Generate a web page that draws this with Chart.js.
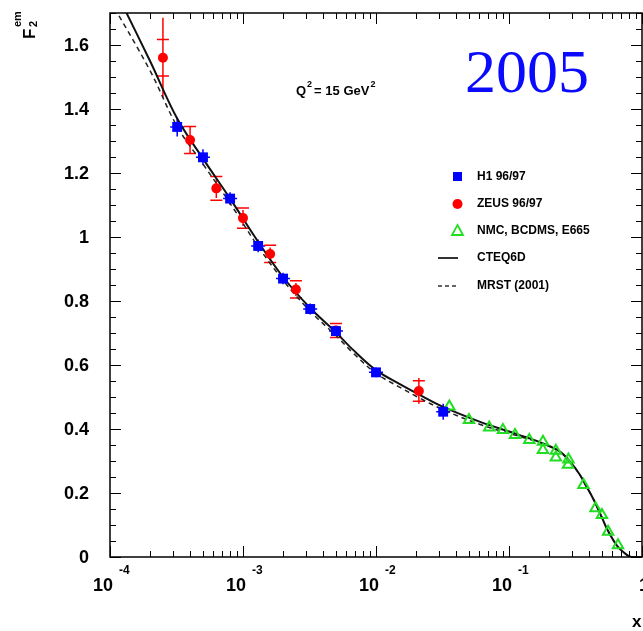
<!DOCTYPE html>
<html>
<head>
<meta charset="utf-8">
<script src="https://cdn.jsdelivr.net/npm/chart.js@4/dist/chart.umd.min.js"></script>
<style>
  html, body { margin: 0; padding: 0; background: #fff; overflow: hidden; }
  #wrap { width: 643px; height: 631px; position: relative; }
  canvas { display: block; }
</style>
</head>
<body>
<div id="wrap"><canvas id="f2Chart"></canvas></div>
<script>
// H1 96/97
const h1X = [3.2e-4, 5.0e-4, 8.0e-4, 1.3e-3, 2.0e-3, 3.2e-3, 5.0e-3, 1.0e-2, 3.2e-2];
const h1Y = [1.344, 1.249, 1.120, 0.972, 0.870, 0.775, 0.706, 0.577, 0.454];
const h1Err = [0.03, 0.025, 0.02, 0.02, 0.018, 0.017, 0.015, 0.015, 0.025];

// ZEUS 96/97
const zeusX = [2.5e-4, 4.0e-4, 6.3e-4, 1.0e-3, 1.6e-3, 2.5e-3, 5.0e-3, 2.1e-2];
const zeusY = [1.560, 1.303, 1.152, 1.059, 0.947, 0.836, 0.708, 0.519];
const zeusErr = [0.125, 0.04, 0.03, 0.025, 0.02, 0.02, 0.015, 0.04];
const zeusSys = [0.045, 0.03, 0.025, 0.02, 0.015, 0.015, 0.01, 0.02];

// NMC, BCDMS, E665
const nmcX = [0.0356, 0.050, 0.071, 0.090, 0.111, 0.142, 0.180, 0.180, 0.225, 0.225, 0.280, 0.278, 0.363, 0.447, 0.50, 0.556, 0.66];
const nmcY = [0.470, 0.428, 0.405, 0.397, 0.381, 0.366, 0.360, 0.334, 0.332, 0.311, 0.305, 0.288, 0.225, 0.152, 0.131, 0.079, 0.037];

// CTEQ6D
const cteqX = [1.2e-4, 2e-4, 3.2e-4, 5e-4, 8e-4, 1.3e-3, 2e-3, 3.2e-3, 5e-3, 6.7e-3, 1e-2, 1.5e-2, 2.1e-2, 3.2e-2, 6e-2, 0.1, 0.14, 0.18, 0.24, 0.29, 0.34, 0.38, 0.42, 0.45, 0.5, 0.55, 0.65, 0.75, 0.83, 1];
const cteqY = [1.738, 1.55, 1.37, 1.245, 1.12, 0.985, 0.875, 0.778, 0.702, 0.648, 0.584, 0.541, 0.508, 0.469, 0.423, 0.392, 0.372, 0.355, 0.330, 0.296, 0.258, 0.222, 0.190, 0.165, 0.123, 0.085, 0.035, 0.010, 0, 0];

// MRST (2001)
const mrstX = [1.0e-4, 2e-4, 3.2e-4, 5e-4, 8e-4, 1.3e-3, 2e-3, 3.2e-3, 5e-3, 6.7e-3, 1e-2, 1.5e-2, 2.1e-2, 3.2e-2, 6e-2, 0.1, 0.14, 0.18, 0.24, 0.29, 0.34, 0.38, 0.42, 0.45, 0.5, 0.55, 0.65, 0.75, 0.83, 1];
const mrstY = [1.74, 1.52, 1.345, 1.228, 1.105, 0.97, 0.865, 0.768, 0.692, 0.638, 0.574, 0.531, 0.498, 0.460, 0.415, 0.386, 0.369, 0.354, 0.330, 0.296, 0.258, 0.222, 0.190, 0.165, 0.123, 0.085, 0.035, 0.010, 0, 0];

// axis ticks
const yTicks = [0, 0.2, 0.4, 0.6, 0.8, 1, 1.2, 1.4, 1.6];
const xDecades = [-4, -3, -2, -1, 0];

const toPts = (xs, ys) => xs.map((x, i) => ({ x: x, y: ys[i] }));
const FONT = '"Liberation Sans", Arial, Helvetica, sans-serif';

// the plot frame runs to the right edge of the picture
const frameRight = {
    id: 'frameRight',
    afterLayout(chart) {
        const xs = chart.scales.x;
        const r = Math.min(chart.width - 1, 642);
        xs.right = r;
        xs.width = r - xs.left;
        xs.configure();
        chart.chartArea.right = r;
        chart.chartArea.width = r - chart.chartArea.left;
    }
};

const decorPlugin = {
    id: 'decor',
    beforeDatasetsDraw(chart) {
        const ctx = chart.ctx;
        const xs = chart.scales.x, ys = chart.scales.y;
        ctx.save();
        ctx.lineWidth = 1.5;
        // H1 error bars
        ctx.strokeStyle = '#0000ff';
        h1X.forEach((x, i) => {
            const px = xs.getPixelForValue(x);
            ctx.beginPath();
            ctx.moveTo(px, ys.getPixelForValue(h1Y[i] - h1Err[i]));
            ctx.lineTo(px, ys.getPixelForValue(h1Y[i] + h1Err[i]));
            ctx.moveTo(px - 7, ys.getPixelForValue(h1Y[i]));
            ctx.lineTo(px + 7, ys.getPixelForValue(h1Y[i]));
            ctx.stroke();
        });
        // ZEUS error bars
        ctx.strokeStyle = '#ff0000';
        zeusX.forEach((x, i) => {
            const px = xs.getPixelForValue(x);
            ctx.beginPath();
            ctx.moveTo(px, ys.getPixelForValue(zeusY[i] - zeusErr[i]));
            ctx.lineTo(px, ys.getPixelForValue(zeusY[i] + zeusErr[i]));
            [-1, 1].forEach(s => {
                const py = ys.getPixelForValue(zeusY[i] + s * (zeusSys[i] + 0.012));
                ctx.moveTo(px - 6, py);
                ctx.lineTo(px + 6, py);
            });
            ctx.stroke();
        });
        ctx.restore();
    },
    afterDraw(chart) {
        const ctx = chart.ctx;
        const a = chart.chartArea;
        const xs = chart.scales.x, ys = chart.scales.y;
        ctx.save();
        ctx.strokeStyle = '#000';
        ctx.fillStyle = '#000';
        ctx.lineWidth = 1.5;
        ctx.strokeRect(a.left, a.top, a.right - a.left, a.bottom - a.top);

        ctx.lineWidth = 1;
        // y ticks, left and right
        for (let k = 0; k <= 34; k++) {
            const v = k * 0.05;
            const py = Math.round(ys.getPixelForValue(v)) + 0.5;
            const len = (k % 4 === 0) ? 11 : 6;
            ctx.beginPath();
            ctx.moveTo(a.left, py); ctx.lineTo(a.left + len, py);
            ctx.moveTo(a.right, py); ctx.lineTo(a.right - len, py);
            ctx.stroke();
        }
        // x ticks, bottom and top
        xDecades.forEach(d => {
            for (let m = 1; m <= 9; m++) {
                const v = m * Math.pow(10, d);
                if (v > 1.0001) break;
                const px = Math.round(xs.getPixelForValue(v)) + 0.5;
                const len = (m === 1) ? 11 : 6;
                ctx.beginPath();
                ctx.moveTo(px, a.bottom); ctx.lineTo(px, a.bottom - len);
                ctx.moveTo(px, a.top); ctx.lineTo(px, a.top + len);
                ctx.stroke();
            }
        });

        // y labels
        ctx.font = 'bold 18px ' + FONT;
        ctx.textAlign = 'right';
        ctx.textBaseline = 'middle';
        yTicks.forEach(v => {
            ctx.fillText(String(v), 89, ys.getPixelForValue(v) + 1);
        });

        // x labels: 10^d
        ctx.textBaseline = 'alphabetic';
        xDecades.forEach(d => {
            const px = xs.getPixelForValue(Math.pow(10, d));
            if (d === 0) {
                ctx.font = 'bold 18px ' + FONT;
                ctx.textAlign = 'left';
                ctx.fillText('1', px - 3, 591);
                return;
            }
            ctx.font = 'bold 18px ' + FONT;
            ctx.textAlign = 'right';
            ctx.fillText('10', px + 3, 591);
            ctx.font = 'bold 12px ' + FONT;
            ctx.textAlign = 'left';
            ctx.fillText(String(d), px + 9, 574);
        });

        // x axis title
        ctx.font = 'bold 17px ' + FONT;
        ctx.textAlign = 'left';
        ctx.fillText('x', 632, 627);

        // y axis title F2^em (rotated)
        ctx.save();
        ctx.translate(35, 39);
        ctx.rotate(-Math.PI / 2);
        ctx.textAlign = 'left';
        ctx.font = 'bold 17px ' + FONT;
        ctx.fillText('F', 0, 0);
        ctx.font = 'bold 11px ' + FONT;
        ctx.fillText('2', 12, 2);
        ctx.fillText('em', 12, -14);
        ctx.restore();

        // Q^2 label
        ctx.font = 'bold 13px ' + FONT;
        ctx.textAlign = 'left';
        let qx = 296;
        ctx.fillText('Q', qx, 95); qx += ctx.measureText('Q').width;
        ctx.font = 'bold 9px ' + FONT;
        ctx.fillText('2', qx + 1, 87); qx += 8;
        ctx.font = 'bold 13px ' + FONT;
        ctx.fillText('= 15 GeV', qx, 95); qx += ctx.measureText('= 15 GeV').width;
        ctx.font = 'bold 9px ' + FONT;
        ctx.fillText('2', qx + 1, 87);

        // year
        ctx.fillStyle = '#0a0aff';
        ctx.font = '62px "Liberation Serif", "Times New Roman", serif';
        ctx.textAlign = 'left';
        ctx.fillText('2005', 465, 92);

        // legend
        ctx.fillStyle = '#000';
        ctx.font = 'bold 12px ' + FONT;
        ctx.textBaseline = 'middle';
        const legendRows = [
            { label: 'H1 96/97', y: 177 },
            { label: 'ZEUS 96/97', y: 204 },
            { label: 'NMC, BCDMS, E665', y: 231 },
            { label: 'CTEQ6D', y: 258 },
            { label: 'MRST (2001)', y: 286 }
        ];
        legendRows.forEach(r => ctx.fillText(r.label, 477, r.y));
        // markers
        ctx.fillStyle = '#0000ff';
        ctx.fillRect(453, 172, 9, 9);
        ctx.fillStyle = '#ff0000';
        ctx.beginPath(); ctx.arc(457.5, 204, 5, 0, Math.PI * 2); ctx.fill();
        ctx.strokeStyle = '#22dd22';
        ctx.lineWidth = 1.8;
        ctx.beginPath();
        ctx.moveTo(457.5, 225); ctx.lineTo(463, 235); ctx.lineTo(452, 235); ctx.closePath();
        ctx.stroke();
        ctx.strokeStyle = '#333';
        ctx.lineWidth = 2;
        ctx.beginPath(); ctx.moveTo(438, 258); ctx.lineTo(458, 258); ctx.stroke();
        ctx.lineWidth = 1.3;
        ctx.setLineDash([4, 3]);
        ctx.beginPath(); ctx.moveTo(438, 286); ctx.lineTo(459, 286); ctx.stroke();
        ctx.restore();
    }
};

new Chart(document.getElementById('f2Chart'), {
    type: 'scatter',
    data: {
        datasets: [
            {
                label: 'H1 96/97',
                data: toPts(h1X, h1Y),
                pointStyle: 'rect',
                pointRadius: 7,
                backgroundColor: '#0000ff',
                borderColor: '#0000ff',
                borderWidth: 0,
                order: 0
            },
            {
                label: 'ZEUS 96/97',
                data: toPts(zeusX, zeusY),
                pointStyle: 'circle',
                pointRadius: 5,
                backgroundColor: '#ff0000',
                borderColor: '#ff0000',
                borderWidth: 0,
                order: 0
            },
            {
                label: 'NMC, BCDMS, E665',
                data: toPts(nmcX, nmcY),
                pointStyle: 'triangle',
                pointRadius: 6,
                backgroundColor: 'rgba(0,0,0,0)',
                borderColor: '#22dd22',
                borderWidth: 2,
                order: 0
            },
            {
                label: 'CTEQ6D',
                data: toPts(cteqX, cteqY),
                showLine: true,
                pointRadius: 0,
                borderColor: '#111',
                borderWidth: 2,
                tension: 0.35,
                order: 1
            },
            {
                label: 'MRST (2001)',
                data: toPts(mrstX, mrstY),
                showLine: true,
                pointRadius: 0,
                borderColor: '#222',
                borderWidth: 1.5,
                borderDash: [5, 4],
                tension: 0.35,
                order: 2
            }
        ]
    },
    options: {
        responsive: true,
        maintainAspectRatio: false,
        animation: false,
        layout: { padding: { top: 13, right: 1, left: 0, bottom: 0 } },
        elements: { line: { capBezierPoints: false } },
        plugins: {
            legend: { display: false },
            tooltip: { enabled: false }
        },
        scales: {
            x: {
                type: 'logarithmic',
                min: 1e-4,
                max: 1,
                grid: { display: false },
                border: { display: false },
                ticks: { display: false },
                afterFit: s => { s.height = 74; }
            },
            y: {
                min: 0,
                max: 1.7,
                grid: { display: false },
                border: { display: false },
                ticks: { display: false },
                afterFit: s => { s.width = 110; }
            }
        }
    },
    plugins: [frameRight, decorPlugin]
});
</script>
</body>
</html>
